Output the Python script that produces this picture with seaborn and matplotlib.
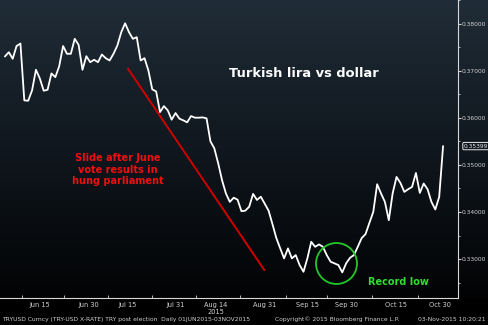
import numpy as np
import pandas as pd
import matplotlib
matplotlib.use("Agg")
import matplotlib.pyplot as plt
import seaborn as sns
from matplotlib.colors import LinearSegmentedColormap

# TRY/USD daily closes, 01 Jun 2015 - 03 Nov 2015
rate = [
    0.37301, 0.37392, 0.37252, 0.37523, 0.37576, 0.36369, 0.36362, 0.36581, 0.37019, 0.36835,
    0.36574, 0.36595, 0.36941, 0.36862, 0.37095, 0.37523, 0.37358, 0.37358, 0.37676, 0.37549,
    0.37019, 0.37307, 0.37180, 0.37231, 0.37180, 0.37343, 0.37265, 0.37216, 0.37358, 0.37534,
    0.37816, 0.38006, 0.37816, 0.37676, 0.37710, 0.37216, 0.37265, 0.37004, 0.36602, 0.36559,
    0.36121, 0.36248, 0.36157, 0.35960, 0.36100, 0.35981, 0.35945, 0.35903, 0.36036, 0.36002,
    0.36002, 0.36008, 0.35987, 0.35500, 0.35352, 0.35034, 0.34674, 0.34392, 0.34214, 0.34303,
    0.34261, 0.34017, 0.34028, 0.34112, 0.34384, 0.34256, 0.34324, 0.34176, 0.34028, 0.33742,
    0.33445, 0.33227, 0.33015, 0.33227, 0.33015, 0.33085, 0.32873, 0.32731, 0.33015, 0.33367,
    0.33261, 0.33311, 0.33261, 0.33085, 0.32943, 0.32909, 0.32873, 0.32718, 0.32909, 0.33028,
    0.33085, 0.33261, 0.33445, 0.33530, 0.33769, 0.34002, 0.34589, 0.34392, 0.34214, 0.33826,
    0.34398, 0.34744, 0.34617, 0.34426, 0.34483, 0.34532, 0.34828, 0.34405, 0.34604, 0.34483,
    0.34214, 0.34053, 0.34320, 0.35399,
]
session = list(range(len(rate)))

# x-axis labels (session index positions)
xtick_labels = ["Jun 15", "Jun 30", "Jul 15", "Jul 31", "Aug 14",
                "Aug 31", "Sep 15", "Sep 30", "Oct 15", "Oct 30"]
xtick_pos = [9.1, 21.6, 31.7, 44.1, 54.3, 66.9, 78.1, 88.2, 100.9, 112.1]
ytick_vals = [0.33, 0.34, 0.35, 0.36, 0.37, 0.38]

title = "Turkish lira vs dollar"
slide_note = "Slide after June\nvote results in\nhung parliament"
low_note = "Record low"
# annotation anchors (session, rate)
slide_start = (31.7, 0.37047)
slide_end = (66.9, 0.32767)
low_center = (85.4, 0.32909)

df = pd.DataFrame({"session": session, "rate": rate})

sns.set_style("dark")
plt.rcParams["font.family"] = ["DejaVu Sans"]

fig = plt.figure(figsize=(4.88, 3.25), dpi=100)
fig.patch.set_facecolor("black")

# gradient background panel (spans plot and right label strip)
bg = fig.add_axes([0.0, 27 / 325, 1.0, 298 / 325], zorder=0)
cmap = LinearSegmentedColormap.from_list("bg", ["#202c37", "#10171e", "#020304"])
bg.imshow(np.linspace(0, 1, 256).reshape(-1, 1), extent=[0, 1, 0, 1],
          aspect="auto", cmap=cmap, origin="upper")
bg.set_xlim(0, 1)
bg.set_ylim(0, 1)
bg.axis("off")

ax = fig.add_axes([0.0, 27 / 325, 458 / 488, 298 / 325], zorder=1)
ax.patch.set_alpha(0)

xmin, xmax = -1.27, 114.86
ymin, ymax = 0.32174, 0.38487

sns.lineplot(data=df, x="session", y="rate", ax=ax, color="white",
             linewidth=1.3, zorder=3)

ax.set_xlim(xmin, xmax)
ax.set_ylim(ymin, ymax)
ax.grid(False)
ax.set_xlabel("")
ax.set_ylabel("")

# spines
for s in ["left", "top"]:
    ax.spines[s].set_visible(False)
for s in ["right", "bottom"]:
    ax.spines[s].set_visible(True)
    ax.spines[s].set_color("#d8d8d8")
    ax.spines[s].set_linewidth(0.8)

# y axis on right
ax.yaxis.tick_right()
ax.set_yticks(ytick_vals)
ax.set_yticklabels([f"{v:.5f}" for v in ytick_vals])
ax.set_yticks([v + 0.005 for v in [0.32] + ytick_vals], minor=True)
ax.tick_params(axis="y", which="major", direction="out", length=2, width=0.8,
               colors="#d0d0d0", labelsize=4.3, pad=0.8, right=True, left=False)
ax.tick_params(axis="y", which="minor", direction="out", length=1.2, width=0.6,
               colors="#d0d0d0", right=True, left=False)

# x axis
ax.set_xticks(xtick_pos)
ax.set_xticklabels(xtick_labels)
mids = [(a + b) / 2 for a, b in zip([xtick_pos[0] - 9.5] + xtick_pos, xtick_pos + [xtick_pos[-1] + 9.5])]
ax.set_xticks(mids, minor=True)
ax.tick_params(axis="x", which="major", length=0, colors="#d0d0d0", labelsize=4.8, pad=3)
ax.tick_params(axis="x", which="minor", direction="in", length=2, width=0.6,
               colors="#d0d0d0", bottom=True)
ax.text(xtick_pos[4], -0.046, "2015", transform=ax.get_xaxis_transform(),
        ha="center", va="center", color="#d0d0d0", fontsize=4.8)

# title and notes
ax.text(0.664, 0.755, title, transform=ax.transAxes, color="white",
        fontsize=9.4, fontweight="bold", ha="center", va="center")
ax.text(0.257, 0.43, slide_note, transform=ax.transAxes, color="#ee1010",
        fontsize=7.0, fontweight="bold", ha="center", va="center", linespacing=1.2)
ax.plot([slide_start[0], slide_end[0]], [slide_start[1], slide_end[1]],
        color="#d00000", linewidth=1.4, zorder=2)
ax.plot([low_center[0]], [low_center[1]], marker="o", markersize=29.5,
        markerfacecolor="none", markeredgecolor="#22c82a", markeredgewidth=1.3,
        zorder=4)
ax.text(0.871, 0.053, low_note, transform=ax.transAxes, color="#33dd33",
        fontsize=7.0, fontweight="bold", ha="center", va="center")

# last value box
ax.text(1.013, rate[-1], f"{rate[-1]:.5f}", transform=ax.get_yaxis_transform(),
        ha="left", va="center", color="#e8e8e8", fontsize=4.2, zorder=6,
        bbox=dict(boxstyle="round,pad=0.2", facecolor="#10171e",
                  edgecolor="#e8e8e8", linewidth=0.7), clip_on=False)

# footer
fig.text(0.004, 0.018, "TRYUSD Curncy (TRY-USD X-RATE) TRY post election  Daily 01JUN2015-03NOV2015",
         color="#d0d0d0", fontsize=4.3, ha="left", va="center")
fig.text(0.563, 0.018, "Copyright\u00a9 2015 Bloomberg Finance L.P.",
         color="#d0d0d0", fontsize=4.3, ha="left", va="center")
fig.text(0.995, 0.018, "03-Nov-2015 10:20:21",
         color="#d0d0d0", fontsize=4.3, ha="right", va="center")

fig.savefig("out.png", dpi=100, facecolor=fig.get_facecolor())
